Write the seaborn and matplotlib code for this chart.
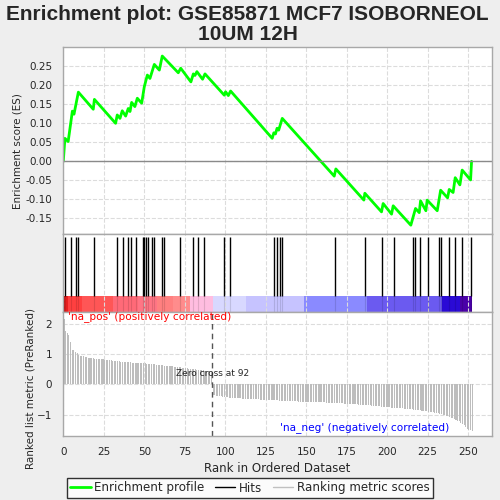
import numpy as np
import matplotlib
matplotlib.use("Agg")
import matplotlib.pyplot as plt
from matplotlib.lines import Line2D
import seaborn as sns

# ES profile vertices
es_rank = [0, 1, 3, 5.6, 6.6, 9.3, 18.5, 19.2, 32.3, 33.3, 35, 36.4, 38.5, 40.1, 41.2, 42.2,
           44.2, 45.7, 48.4, 50, 51.9, 53.5, 56.2, 59.3, 61.1, 71, 72.5, 78.8, 80.3, 81.3,
           82.5, 86, 87.5, 99.4, 100.2, 101.9, 103.3, 129, 130, 131, 132, 133, 135.2, 167.3,
           168.3, 185.6, 186.2, 196.5, 197.5, 202.7, 203.7, 214.6, 217.5, 219.8, 220.6, 223.9,
           224.7, 230.9, 233, 237.3, 238.3, 240.7, 242, 244.9, 246.3, 251.5, 252.1]
es_val = [0.0, 0.0605, 0.052, 0.132, 0.124, 0.182, 0.137, 0.163, 0.100, 0.122, 0.113, 0.133,
          0.119, 0.139, 0.131, 0.155, 0.144, 0.166, 0.153, 0.196, 0.227, 0.218, 0.255, 0.240,
          0.277, 0.233, 0.245, 0.209, 0.230, 0.226, 0.236, 0.216, 0.230, 0.174, 0.183, 0.173,
          0.185, 0.0605, 0.075, 0.072, 0.087, 0.082, 0.113, -0.039, -0.020, -0.102, -0.084,
          -0.133, -0.111, -0.139, -0.117, -0.168, -0.124, -0.135, -0.104, -0.130, -0.102,
          -0.130, -0.076, -0.096, -0.074, -0.082, -0.043, -0.062, -0.023, -0.049, 0.0]

# positions of gene set members in the ranked list
hits = [1, 5, 8, 9, 19, 33, 37, 40, 42, 45, 49, 50, 51, 52, 55, 56, 61, 62, 72, 80, 83, 87,
        99, 103, 130, 132, 134, 135, 168, 186, 197, 204, 216, 217, 220, 225, 232, 233, 238,
        242, 246, 252]

# ranked list metric
metric = [2.15, 1.77, 1.69, 1.62, 1.40, 1.14, 1.13, 1.06, 1.02, 0.97,
          0.95, 0.93, 0.92, 0.91, 0.90, 0.88, 0.87, 0.86, 0.86, 0.85,
          0.85, 0.84, 0.84, 0.83, 0.82, 0.81, 0.80, 0.80, 0.79, 0.79,
          0.78, 0.78, 0.77, 0.77, 0.76, 0.75, 0.75, 0.74, 0.74, 0.73,
          0.73, 0.73, 0.72, 0.72, 0.72, 0.71, 0.71, 0.70, 0.70, 0.69,
          0.69, 0.68, 0.68, 0.67, 0.67, 0.66, 0.66, 0.65, 0.64, 0.64,
          0.63, 0.63, 0.62, 0.61, 0.61, 0.60, 0.60, 0.59, 0.58, 0.58,
          0.57, 0.56, 0.56, 0.55, 0.54, 0.53, 0.53, 0.52, 0.51, 0.50,
          0.50, 0.49, 0.48, 0.48, 0.47, 0.46, 0.46, 0.45, 0.44, 0.43,
          0.43, 0.42, -0.36, -0.37, -0.38, -0.38, -0.39, -0.40, -0.41, -0.42,
          -0.43, -0.43, -0.44, -0.44, -0.45, -0.45, -0.46, -0.46, -0.47, -0.47,
          -0.48, -0.48, -0.48, -0.49, -0.49, -0.49, -0.50, -0.50, -0.50, -0.50,
          -0.50, -0.51, -0.51, -0.51, -0.51, -0.52, -0.52, -0.52, -0.52, -0.53,
          -0.53, -0.53, -0.53, -0.54, -0.54, -0.54, -0.54, -0.55, -0.55, -0.55,
          -0.55, -0.56, -0.56, -0.56, -0.56, -0.57, -0.57, -0.57, -0.57, -0.58,
          -0.58, -0.58, -0.58, -0.58, -0.59, -0.59, -0.59, -0.59, -0.60, -0.60,
          -0.60, -0.60, -0.61, -0.61, -0.61, -0.61, -0.62, -0.62, -0.62, -0.62,
          -0.63, -0.63, -0.63, -0.64, -0.64, -0.64, -0.65, -0.65, -0.65, -0.66,
          -0.66, -0.66, -0.67, -0.67, -0.68, -0.68, -0.69, -0.69, -0.70, -0.70,
          -0.71, -0.71, -0.72, -0.72, -0.73, -0.73, -0.74, -0.74, -0.75, -0.75,
          -0.76, -0.76, -0.77, -0.77, -0.78, -0.78, -0.79, -0.79, -0.80, -0.80,
          -0.81, -0.81, -0.82, -0.82, -0.83, -0.83, -0.84, -0.84, -0.85, -0.86,
          -0.86, -0.87, -0.88, -0.88, -0.89, -0.90, -0.91, -0.92, -0.93, -0.94,
          -0.95, -0.96, -0.97, -0.99, -1.00, -1.02, -1.04, -1.06, -1.08, -1.10,
          -1.12, -1.14, -1.17, -1.20, -1.23, -1.27, -1.31, -1.36, -1.42, -1.48,
          -1.51, -1.52, -1.53]
zero_cross = 92

# colour bar blocks (start rank, end rank, colour)
cbar_edges = [0, 1.2, 3.1, 11.3, 30.9, 46, 57.6, 67.9, 78.2, 92.6, 113, 148.6, 187.3, 233.6, 245, 252.5]
cbar_cols = ['#c00000', '#e82020', '#ff4040', '#ff5656', '#ff6a78', '#ff7585', '#ff8080',
             '#ff8c8c', '#ffbde0', '#d8d8ff', '#c6c3ff', '#8a8aff', '#6b5af0', '#2a0ad5', '#4a00a8']

sns.set_theme(style="whitegrid", rc={"grid.linestyle": "--", "grid.color": "#dcdcdc",
                                     "grid.linewidth": 0.8, "axes.edgecolor": "#a8a8a8",
                                     "axes.linewidth": 1.0})
plt.rcParams['font.family'] = ['DejaVu Sans']

fig = plt.figure(figsize=(5, 5), dpi=100, facecolor='#eeeeee')
x0, w = 0.1266, 0.857
ax1 = fig.add_axes([x0, 0.5314, w, 0.374])
ax2 = fig.add_axes([x0, 0.376, w, 0.1554])
ax3 = fig.add_axes([x0, 0.128, w, 0.248])
xmax = 264.6

# enrichment profile
sns.lineplot(x=es_rank, y=es_val, color='#00ff00', lw=2, ax=ax1)
ax1.axhline(0, color='#8a8a8a', lw=1)
ax1.set_xlim(0, xmax)
ax1.set_ylim(-0.192, 0.30)
ax1.set_xticks(np.arange(0, 251, 25))
ax1.set_xticklabels([])
ax1.set_yticks(np.arange(-0.15, 0.26, 0.05))
ax1.set_yticklabels(['%.2f' % v for v in np.arange(-0.15, 0.26, 0.05)])
ax1.tick_params(axis='y', labelsize=7.5, pad=2)
ax1.set_ylabel('Enrichment score (ES)', fontsize=7.5)
ax1.yaxis.set_label_coords(-0.095, 0.447)
fig.text(0.495, 0.99, 'Enrichment plot: GSE85871 MCF7 ISOBORNEOL\n10UM 12H', fontsize=15,
         fontweight='bold', family=['Liberation Sans', 'DejaVu Sans'], ha='center', va='top',
         linespacing=1.05)

# hits + colour bar
ax2.vlines(hits, 0.2, 0.965, color='black', lw=1)
ax2.vlines(hits, 0, 0.2, color='black', lw=0.8, alpha=0.12)
for i, c in enumerate(cbar_cols):
    ax2.axvspan(cbar_edges[i], cbar_edges[i + 1], ymin=0, ymax=0.2, color=c, lw=0, zorder=0)
ax2.set_xlim(0, xmax)
ax2.set_ylim(0, 1)
ax2.set_xticks(np.arange(0, 251, 25))
ax2.set_xticklabels([])
ax2.set_yticks([])
ax2.grid(axis='y', visible=False)

# ranked list metric
ranks = np.arange(len(metric)) + 0.5
ax3.bar(ranks, metric, width=0.65, color='#bdbdbd', lw=0)
ax3.axvline(zero_cross, color='#555555', lw=1, ls=(0, (4, 3)))
ax3.set_xlim(0, xmax)
ax3.set_ylim(-1.71, 2.39)
ax3.set_xticks(np.arange(0, 251, 25))
ax3.set_yticks([-1, 0, 1, 2])
ax3.tick_params(labelsize=7.5, pad=2)
ax3.set_xlabel('Rank in Ordered Dataset', fontsize=8.5)
ax3.xaxis.set_label_coords(0.5, -0.207)
ax3.set_ylabel('Ranked list metric (PreRanked)', fontsize=7.5)
ax3.yaxis.set_label_coords(-0.066, 0.38)
ax3.text(2.7, 2.24, "'na_pos' (positively correlated)", color='red', fontsize=7.6, va='center')
ax3.text(185.8, -1.44, "'na_neg' (negatively correlated)", color='blue', fontsize=7.6,
         va='center', ha='center')
ax3.text(zero_cross, 0.36, 'Zero cross at 92', fontsize=6.5, ha='center', va='center')

handles = [Line2D([], [], color='#00ff00', lw=2), Line2D([], [], color='black', lw=1),
           Line2D([], [], color='#c0c0c0', lw=1)]
leg = fig.legend(handles, ['Enrichment profile', 'Hits', 'Ranking metric scores'],
                 loc='center', bbox_to_anchor=(0.5, 0.024), ncol=3, fontsize=8.6,
                 frameon=True, fancybox=False, handlelength=1.7, handletextpad=0.3,
                 columnspacing=0.9, borderpad=0.3)
leg.get_frame().set_edgecolor('black')
leg.get_frame().set_linewidth(1)

fig.savefig('out.png', dpi=100, facecolor=fig.get_facecolor())
